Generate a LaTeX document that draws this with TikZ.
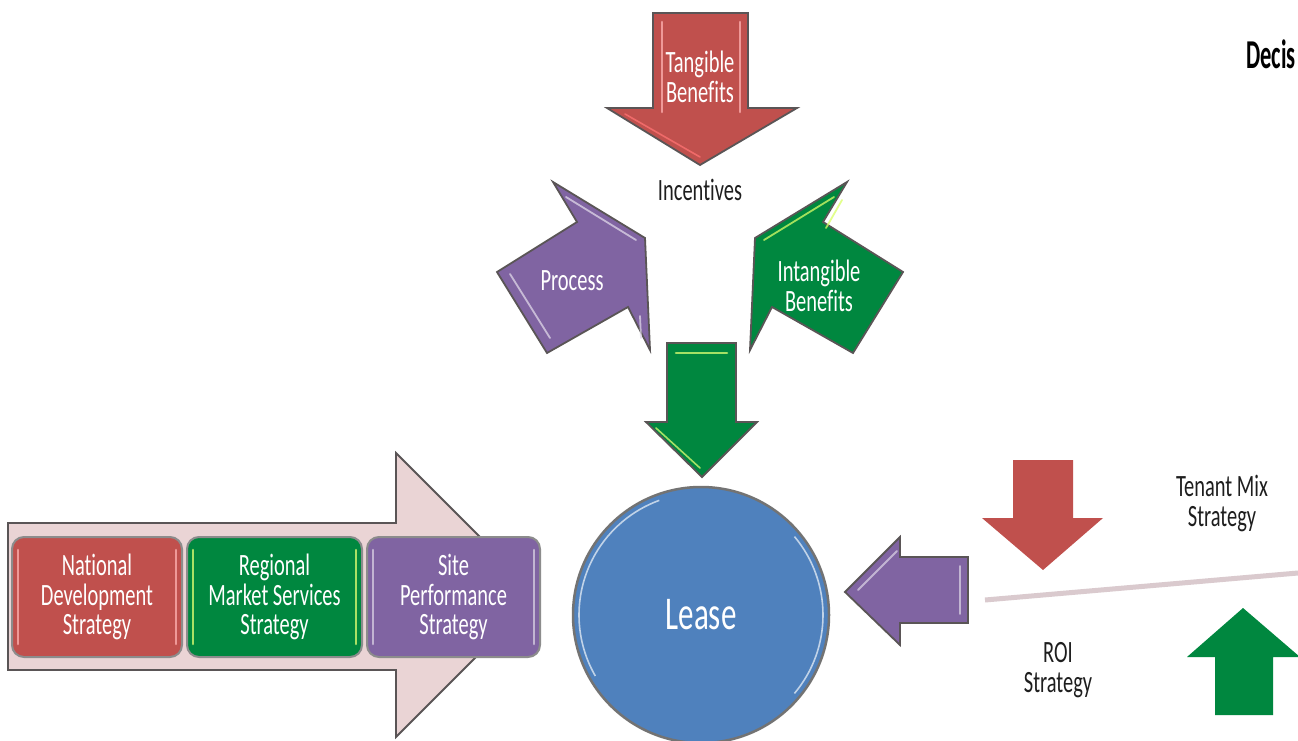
\documentclass[tikz,border=0pt]{standalone}
\usepackage{fontspec}
\setmainfont[FakeStretch=0.66, Ligatures=NoCommon]{Carlito}
\newfontfamily\headfont[FakeStretch=0.55]{Carlito}
\usetikzlibrary{calc}

\definecolor{cRed}{HTML}{C0504D}
\definecolor{cGreen}{HTML}{00873F}
\definecolor{cPurple}{HTML}{8064A2}
\definecolor{cBlue}{HTML}{4F81BD}
\definecolor{cPink}{HTML}{EAD4D5}
\definecolor{cEdge}{HTML}{5A5556}
\definecolor{cRule}{HTML}{DACACE}
\definecolor{cInk}{HTML}{1E1E1E}

\tikzset{
  lbl/.style={text=white, align=center, inner sep=0pt,
    font=\fontsize{31}{30}\selectfont},
  darklbl/.style={text=cInk, align=center, inner sep=0pt,
    font=\fontsize{31}{30}\selectfont},
  bevel/.style={draw=cEdge, line width=1.8pt, line join=miter},
  shine/.style={line width=2.6pt, line cap=round, opacity=0.75},
  stratbox/.style={rounded corners=12pt, minimum height=120pt,
    draw=black!45, line width=2pt, text=white, align=center,
    inner sep=0pt, font=\fontsize{31}{29.5}\selectfont},
}

\begin{document}
\begin{tikzpicture}[x=1pt,y=-1pt]
\useasboundingbox[fill=white] (0,0) rectangle (1298,741);

% ---- Incentives cluster -------------------------------------------
% tangible benefits, pointing down
\fill[cRed, bevel] (653,13) -- (748,13) -- (748,108) -- (797,108)
  -- (700,165) -- (607,108) -- (653,108) -- cycle;
\draw[shine, red!30!white] (662,22) -- (662,112);
\draw[shine, red!30!white] (740,22) -- (740,112);
\draw[shine, red!55!white, line width=1.6pt] (625,114) -- (700,157);
\node[lbl] (tangible) at (700,77) {Tangible\\Benefits};

\node[darklbl] (incent) at (700,190) {Incentives};

% process, pointing up-right
\fill[cPurple, bevel] (553,182) -- (645,238) -- (650,350) -- (628,307)
  -- (547,353) -- (497,272) -- (577,222) -- cycle;
\draw[shine, white!75!cPurple, line width=1.8pt]
  (566,197) -- (636,240);
\draw[shine, white!75!cPurple, line width=1.8pt]
  (510,274) -- (550,338);
\draw[shine, white!75!cPurple, line width=1.8pt]
  (640,316) -- (641,338);
\node[lbl] (process) at (572,281) {Process};

% intangible benefits, pointing up-left
\fill[cGreen, bevel] (847,182) -- (755,238) -- (750,350) -- (772,307)
  -- (853,353) -- (903,272) -- (823,222) -- cycle;
\draw[shine, green!25!yellow!60!white, line width=1.8pt]
  (834,197) -- (764,240);
\draw[shine, green!25!yellow!60!white, line width=1.8pt]
  (826,228) -- (842,200);
\node[lbl] (intangible) at (819,286) {Intangible\\Benefits};

% into the lease
\fill[cGreen, bevel] (667,343) -- (736,343) -- (736,422) -- (757,422)
  -- (702,477) -- (646,422) -- (667,422) -- cycle;
\draw[shine, green!25!yellow!55!white] (676,353) -- (727,353);
\draw[shine, green!25!yellow!55!white, line width=1.6pt] (656,428) -- (700,468);

% ---- Lease ------------------------------------------------------------
\node[circle, fill=cBlue, draw=black!55, line width=2.5pt,
  minimum size=256pt, inner sep=0pt, text=white,
  font=\fontsize{47}{50}\selectfont] (lease) at (701,615) {Lease};
\draw[white!65!cBlue, line width=1.6pt] (lease.center) ++(150:122) arc (150:250:122);
\draw[white!65!cBlue, line width=1.6pt] (lease.center) ++(-40:122) arc (-40:40:122);

% ---- Strategy chain ------------------------------------------------
\fill[cPink, bevel] (8,523) -- (396,523) -- (396,453) -- (538,595)
  -- (396,737) -- (396,670) -- (8,670) -- cycle;

\node[stratbox, fill=cRed, minimum width=170pt] (natl) at (97,597)
  {National\\Development\\Strategy};
\node[stratbox, fill=cGreen, minimum width=175pt] (regional) at (274.5,597)
  {Regional\\Market Services\\Strategy};
\node[stratbox, fill=cPurple, minimum width=173pt] (site) at (453.5,597)
  {Site\\Performance\\Strategy};

\draw[shine, red!30!white] ($(natl.north west)+(7,14)$) -- ($(natl.south west)+(7,-14)$);
\draw[shine, red!30!white] ($(natl.north east)+(-7,14)$) -- ($(natl.south east)+(-7,-14)$);
\draw[shine, green!20!yellow!55!white] ($(regional.north west)+(7,14)$) -- ($(regional.south west)+(7,-14)$);
\draw[shine, green!20!yellow!55!white] ($(regional.north east)+(-7,14)$) -- ($(regional.south east)+(-7,-14)$);
\draw[shine, white!70!cPurple] ($(site.north west)+(7,14)$) -- ($(site.south west)+(7,-14)$);
\draw[shine, white!70!cPurple] ($(site.north east)+(-7,14)$) -- ($(site.south east)+(-7,-14)$);

% ---- ROI / tenant mix side ---------------------------------------
\fill[cPurple, bevel] (845,592) -- (900,537) -- (900,557) -- (968,557)
  -- (968,623) -- (900,623) -- (900,645) -- cycle;
\draw[shine, white!70!cPurple, line width=1.8pt] (858,590) -- (897,551);
\draw[shine, white!70!cPurple, line width=1.8pt] (960,566) -- (960,614);

\coordinate (ruleL) at (985,600);
\coordinate (ruleR) at (1298,573);
\draw[cRule, line width=5pt] (ruleL) -- (ruleR);

\fill[cRed] (1013,460) -- (1073,460) -- (1073,518) -- (1103,518)
  -- (1043,570) -- (982,518) -- (1013,518) -- cycle;
\fill[cGreen] (1215,715) -- (1273,715) -- (1273,657) -- (1300,657)
  -- (1243,608) -- (1187,657) -- (1215,657) -- cycle;

\node[darklbl] (tenant) at (1222,503) {Tenant Mix\\Strategy};
\node[darklbl] (roi) at (1058,670) {ROI\\Strategy};

% heading at the top right
\node[anchor=base east, inner sep=0pt, text=black,
  font=\fontsize{41}{44}\headfont\bfseries] (heading) at (1296,69) {Decis};
\end{tikzpicture}
\end{document}
